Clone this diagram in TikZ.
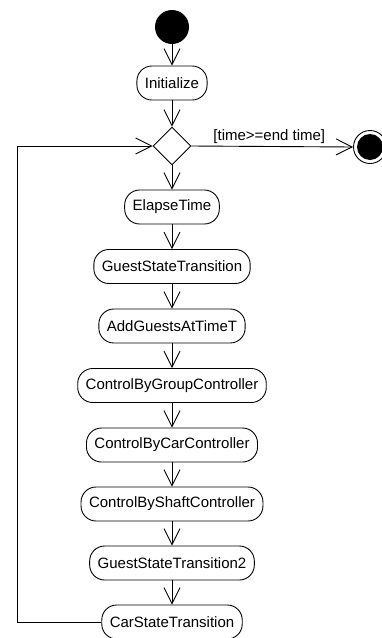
\documentclass[tikz,border=0pt]{standalone}
\usepackage{fontspec}
\setmainfont{Liberation Sans}
\usetikzlibrary{arrows.meta,shapes.geometric}
\begin{document}
\begin{tikzpicture}[x=1pt,y=-1pt,
  line width=0.9pt,
  flow/.style={-{Straight Barb[length=16pt,width=16pt,line width=0.9pt]}},
  act/.style={draw, rectangle, rounded corners=15pt, minimum height=34pt, inner xsep=8pt, inner ysep=0pt,
    font=\fontsize{15}{18}\selectfont},
  dec/.style={draw, diamond, minimum width=38pt, minimum height=38pt, inner sep=0pt},
  startnode/.style={circle, fill=black, minimum size=34pt, inner sep=0pt},
  endring/.style={circle, draw, minimum size=33pt, inner sep=0pt},
  endfill/.style={circle, fill=black, minimum size=26pt, inner sep=0pt},
  guard/.style={font=\fontsize{15}{18}\selectfont, inner sep=0pt}
]
\useasboundingbox (0,0) rectangle (382,638);
\node[startnode] (start) at (172,27) {};
\node[act] (init) at (172,83) {Initialize};
\node[dec] (dec) at (172,146) {};
\node[act] (elapse) at (172,207) {ElapseTime};
\node[act] (gst) at (172,266.5) {GuestStateTransition};
\node[act] (add) at (172,326) {AddGuestsAtTimeT};
\node[act] (cbg) at (172,385.5) {ControlByGroupController};
\node[act] (cbc) at (172,445) {ControlByCarController};
\node[act] (cbs) at (172,504) {ControlByShaftController};
\node[act] (gst2) at (172,563) {GuestStateTransition2};
\node[act] (cst) at (172,622) {CarStateTransition};
\node[endring] (final) at (370,147) {};
\node[endfill] (finalin) at (370,147) {};
\node[guard, anchor=base west] (lbl) at (213,140) {[time>=end time]};
\coordinate (lb) at (17,622);
\coordinate (lt) at (17,146);

\draw[flow] (start) -- (init);
\draw[flow] (init) -- (dec.north);
\draw[flow] (dec.south) -- (elapse);
\draw[flow] (elapse) -- (gst);
\draw[flow] (gst) -- (add);
\draw[flow] (add) -- (cbg);
\draw[flow] (cbg) -- (cbc);
\draw[flow] (cbc) -- (cbs);
\draw[flow] (cbs) -- (gst2);
\draw[flow] (gst2) -- (cst);
\draw[flow] (cst.west) -- (lb) -- (lt) -- (dec.west);
\draw[flow] (dec.east) -- (final.west);
\end{tikzpicture}
\end{document}
